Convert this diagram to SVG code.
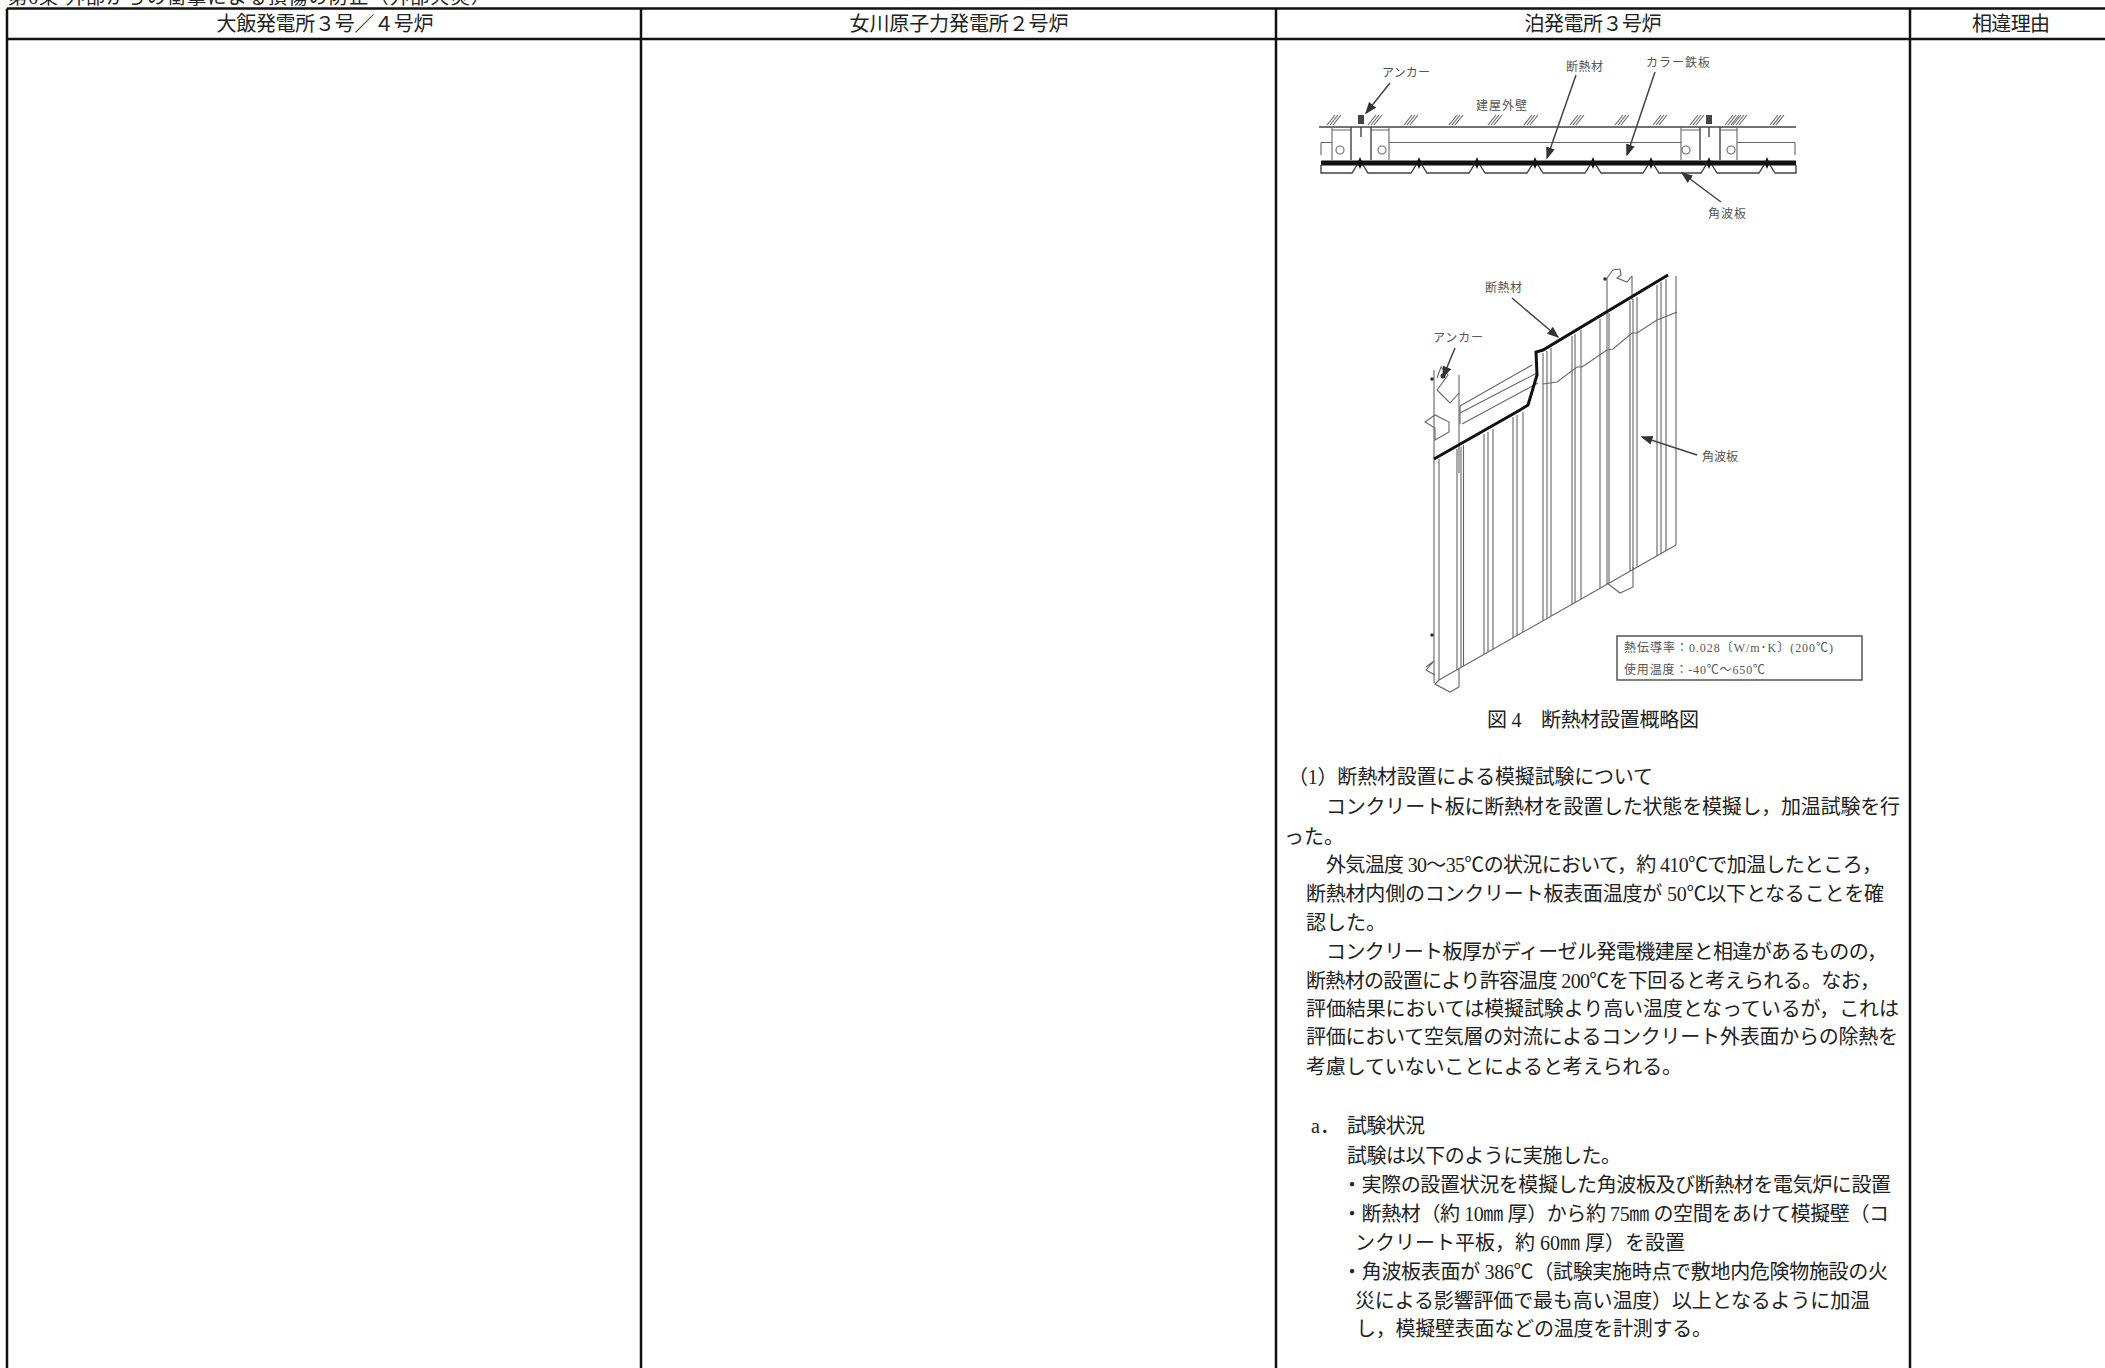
<svg xmlns="http://www.w3.org/2000/svg" width="2105" height="1368" viewBox="0 0 2105 1368">
<style>
text{font-family:"Liberation Serif","Noto Sans CJK JP",serif;fill:#222}
.h{font-size:20px;text-anchor:middle}
.b{font-size:20px}
.s{font-size:12px;fill:#555}
.t{stroke:#111;stroke-width:2.5;fill:none}
.l{stroke:#666;stroke-width:1.1;fill:none}
.d{stroke:#444;stroke-width:1.4;fill:none}
.m{stroke:#444;stroke-width:1.5;fill:none;marker-end:url(#a)}
.k{stroke:#111;stroke-width:3;fill:none}
</style>
<defs>
<marker id="a" markerWidth="8" markerHeight="8" refX="7" refY="3" orient="auto"><path d="M0 0L8 3L0 6Z" fill="#333"/></marker>
<path id="hh" class="l" d="M0 10L8 0M3 10L11 0M6 10L14 0"/>
<path id="nd" d="M0 -6L2.5 0L0 6L-2.5 0Z" fill="#111"/>
</defs>
<rect width="2105" height="1368" fill="#fff"/>
<g id="table">
<text x="8" y="4" font-size="19" textLength="482" fill="#333">第6条 外部からの衝撃による損傷の防止（外部火災）</text>
<path class="t" d="M7 8.500H2105M7 39H2105M7 8.500V1368M641 8.500V1368M1276 8.500V1368M1910 8.500V1368"/>
<text class="h" x="325" y="31" textLength="217">大飯発電所３号／４号炉</text>
<text class="h" x="959" y="31" textLength="219">女川原子力発電所２号炉</text>
<text class="h" x="1593" y="31" textLength="137">泊発電所３号炉</text>
<text class="h" x="2011" y="31" textLength="78">相違理由</text>
</g>
<g id="fig-top">
<use href="#hh" x="1327" y="115"/><use href="#hh" x="1368" y="115"/><use href="#hh" x="1404" y="115"/><use href="#hh" x="1449" y="115"/><use href="#hh" x="1488" y="115"/><use href="#hh" x="1524" y="115"/><use href="#hh" x="1570" y="115"/><use href="#hh" x="1615" y="115"/><use href="#hh" x="1653" y="115"/><use href="#hh" x="1690" y="115"/><use href="#hh" x="1725" y="115"/><use href="#hh" x="1733" y="115"/><use href="#hh" x="1770" y="115"/>
<path class="d" d="M1319 127H1796"/>
<path class="l" d="M1389 142.500H1681M1737 142.500H1795M1321 142.500H1332M1321 142.500V155M1795 142.500V155"/>
<path class="l" d="M1332 127V160M1389 127V160M1681 127V160M1737 127V160M1332 130H1351M1371 130H1389M1681 130H1700M1720 130H1737"/>
<path class="d" d="M1351 127V160M1371 127V160M1700 127V160M1720 127V160"/>
<path class="d" d="M1361 127V137M1709 127V137"/>
<path class="d" d="M1321 165V173H1352L1357 165M1363 165L1368 173H1411L1416 165M1422 165L1427 173H1469L1474 165M1480 165L1485 173H1527L1532 165M1538 165L1543 173H1585L1590 165M1596 165L1601 173H1643L1648 165M1654 165L1659 173H1701L1706 165M1712 165L1717 173H1759L1764 165M1770 165L1775 173H1796V165"/>
<rect x="1358" y="115" width="6" height="9" fill="#444"/><rect x="1706" y="115" width="6" height="9" fill="#444"/>
<circle cx="1340" cy="150" r="4" class="l"/><circle cx="1382" cy="150" r="4" class="l"/><circle cx="1686" cy="150" r="4" class="l"/><circle cx="1731" cy="150" r="4" class="l"/>
<path stroke="#111" stroke-width="5" d="M1321 163H1796"/>
<use href="#nd" x="1360" y="163"/><use href="#nd" x="1419" y="163"/><use href="#nd" x="1477" y="163"/><use href="#nd" x="1535" y="163"/><use href="#nd" x="1593" y="163"/><use href="#nd" x="1651" y="163"/><use href="#nd" x="1709" y="163"/><use href="#nd" x="1767" y="163"/>
<path class="m" d="M1390 83L1366 113"/>
<path class="m" d="M1576 75L1547 158"/>
<path class="m" d="M1655 72L1627 155"/>
<path class="m" d="M1721 202L1682 173"/>
<text class="s" x="1382" y="77" textLength="48">アンカー</text>
<text class="s" x="1566" y="71" textLength="37">断熱材</text>
<text class="s" x="1646" y="67" textLength="64">カラー鉄板</text>
<text class="s" x="1476" y="110" textLength="51">建屋外壁</text>
<text class="s" x="1708" y="218" textLength="38">角波板</text>
</g>
<g id="fig-iso">
<path class="l" d="M1434 370V683M1439 459V680M1457 449V670M1461 447V667.500M1463.500 445V666M1484 434V654M1488 432V652M1493 429V649M1513 417V638M1517 415V636M1523 412V632M1543 353V621M1547 351V618.500M1551 348V616M1572 336V604M1575 334V603M1581 330V599M1600 319V588M1607 278V584M1609 313V583M1630 301V571M1633 299V570M1637 297V567M1657 285V556M1661 282V554M1666 279V551M1676 276V545"/>
<path class="l" d="M1439 680L1676 545M1439 680L1435 684L1450 692L1459 687V668M1607 583L1620 593L1633 587V567"/>
<path class="l" d="M1460 406L1532 365M1460 413L1537 373M1462 424L1538 383M1460 406V424M1543 384L1557 382L1577 367L1582 367L1607 350L1613 349L1632 333L1637 333L1657 320L1677 312"/>
<path class="l" d="M1459 375V473M1437 390L1450 403L1459 393M1437 378L1441 367L1448 375L1437 390M1425 422L1435 415L1449 422V432L1435 440V428Z"/>
<path class="l" d="M1426 667L1434 661L1426 670L1435 675M1632 276V300"/>
<path class="l" d="M1607 278L1613 270L1620 269L1621 275L1617 278L1627 282L1632 276"/>
<circle cx="1432" cy="379" r="1.800" fill="#333"/><circle cx="1432" cy="635" r="1.800" fill="#333"/><circle cx="1605" cy="279" r="1.800" fill="#333"/><circle cx="1443" cy="376" r="2.500" fill="#333"/>
<path class="k" d="M1434 459L1520 410L1528 405L1537 375L1536 352L1543 350L1668 275"/>
<path class="m" d="M1512 298L1558 337"/>
<path class="m" d="M1455 348L1443 377"/>
<path class="m" d="M1697 455L1642 437"/>
<text class="s" x="1433" y="342" textLength="50">アンカー</text>
<text class="s" x="1485" y="292" textLength="37">断熱材</text>
<text class="s" x="1702" y="461" textLength="36">角波板</text>
<rect x="1617" y="636" width="245" height="44" fill="#fff" stroke="#555" stroke-width="1.500"/>
<text class="s" x="1624" y="652" textLength="209">熱伝導率：0.028〔W/m･K〕(200℃)</text>
<text class="s" x="1624" y="674" textLength="141">使用温度：-40℃～650℃</text>
<text class="b" x="1487" y="727" textLength="212">図 4　断熱材設置概略図</text>
</g>
<g id="body">
<text class="b" x="1288" y="784" textLength="365">（1）断熱材設置による模擬試験について</text>
<text class="b" x="1326" y="814" textLength="574">コンクリート板に断熱材を設置した状態を模擬し，加温試験を行</text>
<text class="b" x="1284" y="844">った。</text>
<text class="b" x="1326" y="872" textLength="556">外気温度 30～35℃の状況において，約 410℃で加温したところ，</text>
<text class="b" x="1306" y="901" textLength="578">断熱材内側のコンクリート板表面温度が 50℃以下となることを確</text>
<text class="b" x="1306" y="930">認した。</text>
<text class="b" x="1326" y="959" textLength="561">コンクリート板厚がディーゼル発電機建屋と相違があるものの，</text>
<text class="b" x="1306" y="988" textLength="574">断熱材の設置により許容温度 200℃を下回ると考えられる。なお，</text>
<text class="b" x="1306" y="1016" textLength="593">評価結果においては模擬試験より高い温度となっているが，これは</text>
<text class="b" x="1306" y="1044" textLength="592">評価において空気層の対流によるコンクリート外表面からの除熱を</text>
<text class="b" x="1306" y="1074" textLength="376">考慮していないことによると考えられる。</text>
<text class="b" x="1311" y="1133">a．</text>
<text class="b" x="1347" y="1133" textLength="78">試験状況</text>
<text class="b" x="1347" y="1163" textLength="274">試験は以下のように実施した。</text>
<text class="b" x="1342" y="1192" textLength="549">・実際の設置状況を模擬した角波板及び断熱材を電気炉に設置</text>
<text class="b" x="1342" y="1221" textLength="547">・断熱材（約 10㎜ 厚）から約 75㎜ の空間をあけて模擬壁（コ</text>
<text class="b" x="1355" y="1250" textLength="330">ンクリート平板，約 60㎜ 厚）を設置</text>
<text class="b" x="1342" y="1279" textLength="546">・角波板表面が 386℃（試験実施時点で敷地内危険物施設の火</text>
<text class="b" x="1355" y="1308" textLength="515">災による影響評価で最も高い温度）以上となるように加温</text>
<text class="b" x="1356" y="1336" textLength="356">し，模擬壁表面などの温度を計測する。</text>
</g>
</svg>
